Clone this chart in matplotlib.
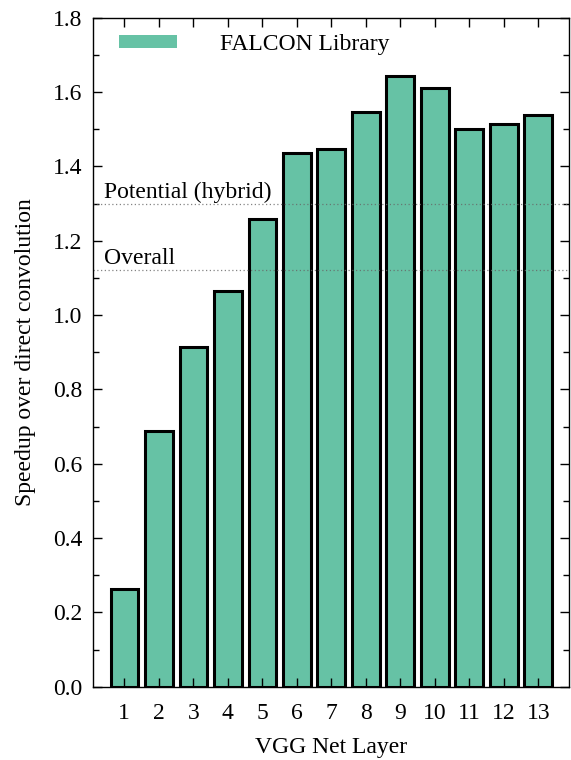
import matplotlib
matplotlib.use("Agg")
from matplotlib import pyplot as plt
from matplotlib.patches import Patch
from matplotlib.ticker import MultipleLocator, FormatStrFormatter

layers = list(range(1, 14))
speedup = [0.263, 0.689, 0.915, 1.066, 1.258, 1.437, 1.447, 1.545, 1.642, 1.612, 1.500, 1.514, 1.538]
potential_hybrid = 1.30
overall = 1.12
bar_color = "#66c2a5"

plt.rcParams['font.family'] = ['Liberation Serif', 'DejaVu Serif']
plt.rcParams['font.size'] = 17

fig = plt.figure(figsize=(5.71, 7.60), dpi=100)
ax = fig.add_axes([0.1634, 0.0964, 0.997 - 0.1634, 0.9767 - 0.0964])

ax.bar(layers, speedup, width=0.8, color=bar_color, edgecolor="black", linewidth=2.2, zorder=2)

ax.axhline(potential_hybrid, color="#666666", linestyle=(0, (1, 2)), linewidth=0.9, alpha=0.8, zorder=3)
ax.axhline(overall, color="#666666", linestyle=(0, (1, 2)), linewidth=0.9, alpha=0.8, zorder=3)
ax.text(0.023, potential_hybrid + 0.016, "Potential (hybrid)", transform=ax.get_yaxis_transform(),
        ha="left", va="baseline")
ax.text(0.023, overall + 0.018, "Overall", transform=ax.get_yaxis_transform(),
        ha="left", va="baseline")

ax.set_xlim(0.1, 13.9)
ax.set_ylim(0, 1.8)
ax.set_xticks(layers)
ax.yaxis.set_major_locator(MultipleLocator(0.2))
ax.yaxis.set_minor_locator(MultipleLocator(0.1))
ax.yaxis.set_major_formatter(FormatStrFormatter("%.1f"))
ax.set_axisbelow(False)
ax.tick_params(which="both", direction="in", top=True, right=True, width=1)
ax.tick_params(which="major", length=6.7)
ax.tick_params(which="minor", length=4)
ax.tick_params(axis="x", pad=12)
ax.tick_params(axis="y", pad=8)
# bottom ticks sit over the bars, show them faintly like the original
for t in ax.xaxis.get_major_ticks():
    t.tick1line.set_color("#0b4a35")
for s in ax.spines.values():
    s.set_linewidth(1)
    s.set_zorder(4)

ax.set_xlabel("VGG Net Layer", labelpad=9)
ax.set_ylabel("Speedup over direct convolution", labelpad=12)

handle = Patch(facecolor=bar_color, edgecolor="none", label="FALCON Library")
ax.legend(handles=[handle], loc="upper left", frameon=False, handlelength=2.46,
          handleheight=0.53, handletextpad=1.78, borderaxespad=0.0,
          bbox_to_anchor=(0.035, 0.99))

fig.savefig("out.png", dpi=100)
